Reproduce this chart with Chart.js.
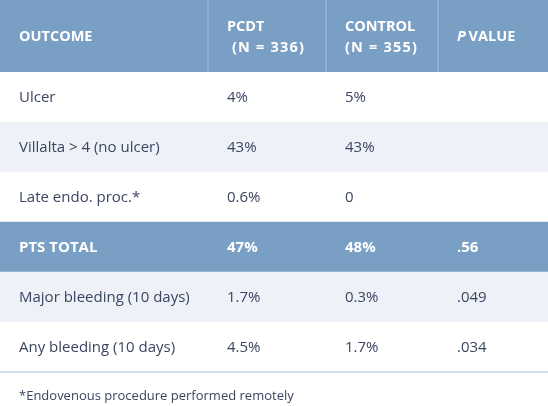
<!DOCTYPE html>
<html>
<head>
<meta charset="utf-8">
<title>PCDT vs Control outcomes</title>
<script src="https://cdn.jsdelivr.net/npm/chart.js@4.4.1/dist/chart.umd.min.js"></script>
<style>
  html, body { margin: 0; padding: 0; background: #fff; }
  #wrap { width: 548px; height: 406px; position: relative; }
</style>
</head>
<body>
<div id="wrap"><canvas id="tbl"></canvas></div>
<script>
// table data
const outcomes = ['Ulcer', 'Villalta > 4 (no ulcer)', 'Late endo. proc.*', 'PTS TOTAL', 'Major bleeding (10 days)', 'Any bleeding (10 days)'];
const pcdt = ['4%', '43%', '0.6%', '47%', '1.7%', '4.5%'];
const control = ['5%', '43%', '0', '48%', '0.3%', '1.7%'];
const pValue = ['', '', '', '.56', '.049', '.034'];
const headers = [['OUTCOME'], ['PCDT', ' (N = 336)'], ['CONTROL', '(N = 355)'], ['P VALUE']];
const totalRow = 'PTS TOTAL';
const footnote = '*Endovenous procedure performed remotely';

// layout (column edges in px along the x scale)
const colEdges = [0, 208, 326, 438, 548];
const HEAD_H = 72, FOOT_H = 34, PAD = 19;

const BLUE = '#7a9fc5', LIGHT = '#eef2f8', LINE = '#dde5ef', TEXT = '#3a4560';
const FONT = '"Open Sans", Lato, sans-serif';

const rowColors = outcomes.map((o, i) => o === totalRow ? BLUE : (i % 3 === 1 ? LIGHT : '#ffffff'));

const tablePlugin = {
  id: 'tablePlugin',
  beforeDatasetsDraw(chart) {
    const { ctx, chartArea } = chart;
    ctx.save();
    ctx.fillStyle = BLUE;
    ctx.fillRect(chartArea.left, 0, chartArea.right - chartArea.left, chartArea.top);
    ctx.restore();
  },
  afterDatasetsDraw(chart) {
    const { ctx, chartArea, scales: { x, y } } = chart;
    ctx.save();
    // header separators
    ctx.strokeStyle = '#92b1d1';
    ctx.lineWidth = 2;
    colEdges.slice(1, -1).forEach(e => {
      const px = Math.round(x.getPixelForValue(e));
      ctx.beginPath(); ctx.moveTo(px, 0); ctx.lineTo(px, chartArea.top); ctx.stroke();
    });
    // bottom border
    ctx.strokeStyle = '#d6dfea';
    ctx.beginPath(); ctx.moveTo(chartArea.left, chartArea.bottom); ctx.lineTo(chartArea.right, chartArea.bottom); ctx.stroke();

    // header text
    ctx.fillStyle = '#ffffff';
    ctx.textBaseline = 'middle';
    const hy = chartArea.top / 2;
    headers.forEach((lines, c) => {
      const hx = x.getPixelForValue(colEdges[c]) + PAD;
      ctx.font = 'bold 14.5px ' + FONT;
      if (c === 3) {
        ctx.font = 'italic bold 14.5px ' + FONT;
        ctx.fillText('P', hx, hy + 1);
        const w = ctx.measureText('P ').width;
        ctx.font = 'bold 14.5px ' + FONT;
        ctx.fillText('VALUE', hx + w - 1, hy + 1);
        return;
      }
      if (lines.length === 1) ctx.fillText(lines[0], hx, hy + 1);
      else {
        ctx.fillText(lines[0], hx, hy - 9);
        ctx.letterSpacing = '1.2px';
        ctx.fillText(lines[1], hx, hy + 12);
        ctx.letterSpacing = '0px';
      }
    });

    // body text
    outcomes.forEach((o, i) => {
      const py = y.getPixelForValue(i) + 1;
      const bold = o === totalRow;
      ctx.fillStyle = bold ? '#ffffff' : TEXT;
      ctx.font = (bold ? 'bold ' : '') + '15px ' + FONT;
      [o, pcdt[i], control[i], pValue[i]].forEach((t, c) => {
        ctx.fillText(t, x.getPixelForValue(colEdges[c]) + PAD, py);
      });
    });

    // footnote
    ctx.fillStyle = TEXT;
    ctx.font = '13px ' + FONT;
    ctx.fillText(footnote, PAD, chartArea.bottom + FOOT_H / 2 + 7);
    ctx.restore();
  }
};

new Chart(document.getElementById('tbl'), {
  type: 'bar',
  data: {
    labels: outcomes,
    datasets: [{
      data: outcomes.map(() => [colEdges[0], colEdges[colEdges.length - 1]]),
      backgroundColor: rowColors,
      borderWidth: 0,
      borderSkipped: false,
      barPercentage: 1,
      categoryPercentage: 1
    }]
  },
  options: {
    indexAxis: 'y',
    responsive: true,
    maintainAspectRatio: false,
    animation: false,
    devicePixelRatio: 1,
    layout: { padding: { top: HEAD_H, bottom: FOOT_H, left: 0, right: 0 } },
    plugins: { legend: { display: false }, tooltip: { enabled: false } },
    scales: {
      x: {
        type: 'linear',
        min: colEdges[0],
        max: colEdges[colEdges.length - 1],
        z: 1,
        border: { display: false },
        ticks: { display: false },
        grid: { color: LINE, lineWidth: 2, drawTicks: false },
        afterBuildTicks: s => { s.ticks = colEdges.slice(1, -1).map(v => ({ value: v })); }
      },
      y: {
        display: false
      }
    }
  },
  plugins: [tablePlugin]
});
</script>
</body>
</html>
